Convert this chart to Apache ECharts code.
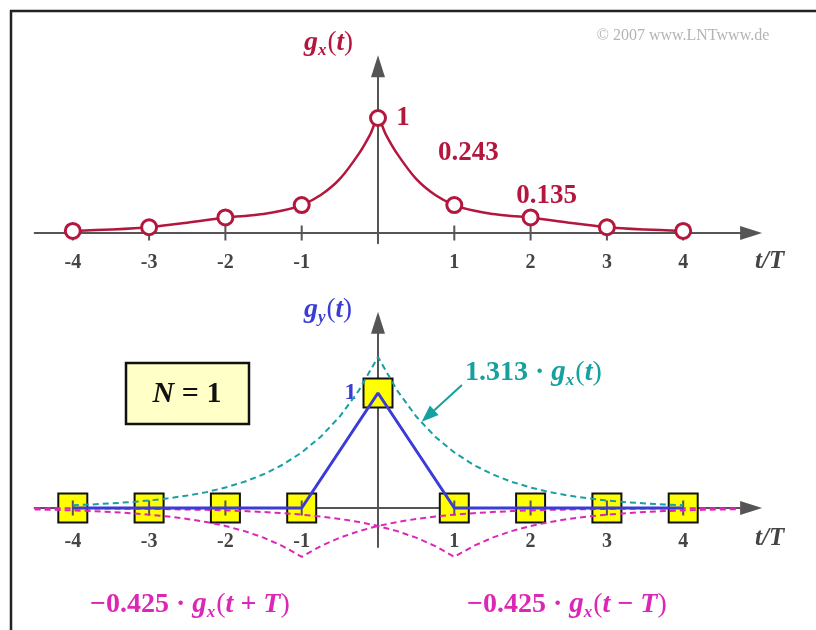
<!DOCTYPE html>
<html>
<head>
<meta charset="utf-8">
<script src="https://cdn.jsdelivr.net/npm/echarts@6/dist/echarts.min.js"></script>
<style>
  html, body { margin: 0; padding: 0; background: #fff; }
  #chart { width: 816px; height: 630px; }
</style>
</head>
<body>
<div id="chart"></div>
<script>
// ---- data -------------------------------------------------------------
// sampling instants t/T of the pulse values
const tInt = [-4, -3, -2, -1, 0, 1, 2, 3, 4];
const tickLabels = [-4, -3, -2, -1, 1, 2, 3, 4];

// input pulse g_x at the sampling instants
const gxMarks = [0.018, 0.05, 0.135, 0.243, 1, 0.243, 0.135, 0.05, 0.018];
// output pulse g_y (N = 1 transversal filter)
const gyMarks = [0, 0, 0, 0, 1, 0, 0, 0, 0];

// continuous input pulse g_x(t)
const gxCurveT = [-4, -3.5, -3, -2.5, -2, -1.75, -1.5, -1.25, -1, -0.75, -0.5, -0.25, -0.1, 0,
                  0.1, 0.25, 0.5, 0.75, 1, 1.25, 1.5, 1.75, 2, 2.5, 3, 3.5, 4];
const gxCurveV = [0.018, 0.03, 0.05, 0.09, 0.135, 0.148, 0.165, 0.195, 0.243, 0.33, 0.47, 0.69, 0.86, 1,
                  0.86, 0.69, 0.47, 0.33, 0.243, 0.195, 0.165, 0.148, 0.135, 0.09, 0.05, 0.03, 0.018];

// fine time grid for the filter branch signals
const tFine = [-4.5, -4.25, -4, -3.75, -3.5, -3.25, -3, -2.75, -2.5, -2.25, -2, -1.75, -1.5, -1.25,
               -1, -0.75, -0.5, -0.25, 0, 0.25, 0.5, 0.75, 1, 1.25, 1.5, 1.75, 2, 2.25, 2.5, 2.75,
               3, 3.25, 3.5, 3.75, 4, 4.25, 4.5, 4.75];
// 1.313 · g_x(t)
const mainTap = [null, null, 0.024, 0.031, 0.040, 0.051, 0.065, 0.084, 0.108, 0.138, 0.178, 0.228,
                 0.293, 0.376, 0.483, 0.620, 0.796, 1.023, 1.313, 1.023, 0.796, 0.620, 0.483, 0.376,
                 0.293, 0.228, 0.178, 0.138, 0.108, 0.084, 0.065, 0.051, 0.040, 0.031, 0.024,
                 null, null, null];
// −0.425 · g_x(t+T)
const leadTap = [-0.013, -0.016, -0.021, -0.027, -0.035, -0.045, -0.058, -0.074, -0.095, -0.122,
                 -0.156, -0.201, -0.258, -0.331, -0.425, -0.331, -0.258, -0.201, -0.156, -0.122,
                 -0.095, -0.074, -0.058, -0.045, -0.035, -0.027, -0.021, -0.016, -0.013, -0.010,
                 -0.008, -0.006, -0.005, -0.004, -0.003, -0.002, -0.002, -0.001];
// −0.425 · g_x(t−T)
const lagTap = [-0.002, -0.002, -0.003, -0.004, -0.005, -0.006, -0.008, -0.010, -0.013, -0.016,
                -0.021, -0.027, -0.035, -0.045, -0.058, -0.074, -0.095, -0.122, -0.156, -0.201,
                -0.258, -0.331, -0.425, -0.331, -0.258, -0.201, -0.156, -0.122, -0.095, -0.074,
                -0.058, -0.045, -0.035, -0.027, -0.021, -0.016, -0.013, -0.010];

// ---- styling ----------------------------------------------------------
const RED = '#b3173d';
const BLUE = '#3b3bd6';
const TEAL = '#17a0a0';
const MAG = '#dc27b6';
const AXIS = '#555555';
const SERIF = '"Liberation Serif", "DejaVu Serif", serif';

const zip = (xs, ys) => xs.map((x, i) => [x, ys[i]]);

// pixel scale shared by both panels
const PX_T = 76.3, PX_V = 115, X0 = 378;
const T_MIN = -4.5, T_MAX = 4.89;
const gridLeft = X0 + T_MIN * PX_T;
const gridWidth = (T_MAX - T_MIN) * PX_T;
const TOP = { axisY: 233, vMin: -0.09, vMax: 1.45 };
const BOT = { axisY: 508, vMin: -0.34, vMax: 1.61 };

function grid(p) {
  return {
    left: gridLeft, width: gridWidth,
    top: p.axisY - p.vMax * PX_V, height: (p.vMax - p.vMin) * PX_V
  };
}

function xAxis(idx) {
  return {
    type: 'value', gridIndex: idx, min: T_MIN, max: T_MAX,
    splitLine: { show: false },
    axisTick: { show: false },
    axisLabel: { show: false },
    axisLine: { show: true, onZero: true, symbol: ['none', 'triangle'], symbolSize: [14, 22],
                lineStyle: { color: AXIS, width: 2 } }
  };
}

function yAxis(idx, p) {
  return {
    type: 'value', gridIndex: idx, min: p.vMin, max: p.vMax,
    splitLine: { show: false }, axisTick: { show: false }, axisLabel: { show: false },
    axisLine: { show: true, onZero: true, symbol: ['none', 'triangle'], symbolSize: [14, 22],
                lineStyle: { color: AXIS, width: 2 } }
  };
}

// tick marks crossing the time axis, labelled with t/T
function tickMarks(idx, labelGap) {
  return {
    type: 'scatter', xAxisIndex: idx, yAxisIndex: idx, silent: true, z: 3,
    symbol: 'rect', symbolSize: [2, 15],
    itemStyle: { color: AXIS, opacity: 1 },
    label: { show: true, position: 'bottom', distance: labelGap, color: '#444',
             fontFamily: SERIF, fontWeight: 'bold', fontSize: 20,
             formatter: p => String(p.value[0]) },
    data: tickLabels.map(t => [t, 0])
  };
}

function arrowLine(color, from, to) {
  return {
    silent: true, animation: false,
    symbol: ['none', 'triangle'], symbolSize: [13, 17],
    lineStyle: { color: color, width: 2, type: 'solid' },
    label: { show: false },
    data: [[{ coord: from }, { coord: to }]]
  };
}

// labels placed next to the marked samples (value shown = plotted value)
const gxLabelOffsets = { 0: [25, 0], 1: [14, -52], 2: [16, -21] };

const gxMarkData = tInt.map((t, i) => {
  const item = { value: [t, gxMarks[i]] };
  if (gxLabelOffsets[t]) {
    item.label = { show: true, position: 'inside', offset: gxLabelOffsets[t],
                   formatter: p => String(p.value[1]) };
  }
  return item;
});

const gyMarkData = tInt.map((t, i) => {
  const item = { value: [t, gyMarks[i]] };
  if (t === 0) {
    item.label = { show: true, position: 'left', distance: 6, color: BLUE,
                   fontFamily: SERIF, fontWeight: 'bold', fontSize: 24,
                   formatter: p => String(p.value[1]) };
  }
  return item;
});

// rich text helper for the pulse symbols  g_x(t) etc.
function pulseRich(color, size) {
  return {
    n: { font: 'bold ' + size + 'px ' + SERIF, fill: color },
    d: { font: 'bold ' + size + 'px ' + SERIF, fill: color },
    g: { font: 'italic bold ' + (size + 1) + 'px ' + SERIF, fill: color },
    s: { font: 'italic bold ' + Math.round(size * 0.62) + 'px ' + SERIF, fill: color, padding: [Math.round(size * 0.55), 1, 0, 0] },
    p: { font: size + 'px ' + SERIF, fill: color },
    i: { font: 'italic bold ' + size + 'px ' + SERIF, fill: color }
  };
}

function richText(x, y, text, color, size) {
  return {
    type: 'text', x: x, y: y, z: 100,
    style: { text: text, rich: pulseRich(color, size), textVerticalAlign: 'middle', textAlign: 'left' }
  };
}

const chart = echarts.init(document.getElementById('chart'), null, { renderer: 'canvas' });

chart.setOption({
  animation: false,
  backgroundColor: '#ffffff',
  grid: [grid(TOP), grid(BOT)],
  xAxis: [xAxis(0), xAxis(1)],
  yAxis: [yAxis(0, TOP), yAxis(1, BOT)],
  series: [
    // upper panel: input pulse
    {
      type: 'line', xAxisIndex: 0, yAxisIndex: 0, z: 4,
      data: zip(gxCurveT, gxCurveV), smooth: 0.3, symbol: 'none',
      lineStyle: { color: RED, width: 2.5 }
    },
    tickMarks(0, 12),
    {
      type: 'scatter', xAxisIndex: 0, yAxisIndex: 0, z: 6,
      symbol: 'circle', symbolSize: 15,
      itemStyle: { color: '#ffffff', borderColor: RED, borderWidth: 3, opacity: 1 },
      label: { color: RED, fontFamily: SERIF, fontWeight: 'bold', fontSize: 27 },
      data: gxMarkData
    },
    // lower panel: equalized pulse
    {
      type: 'scatter', xAxisIndex: 1, yAxisIndex: 1, z: 2,
      symbol: 'rect', symbolSize: 29,
      itemStyle: { color: '#ffff00', borderColor: '#111111', borderWidth: 2, opacity: 1 },
      data: gyMarkData
    },
    tickMarks(1, 16),
    {
      type: 'line', xAxisIndex: 1, yAxisIndex: 1, z: 4, clip: false,
      data: zip(tFine, mainTap), symbol: 'none', connectNulls: false,
      lineStyle: { color: TEAL, width: 2, type: [6, 4] },
      markLine: arrowLine(TEAL, [1.10, 1.07], [0.655, 0.80])
    },
    {
      type: 'line', xAxisIndex: 1, yAxisIndex: 1, z: 4, clip: false,
      data: zip(tFine, leadTap), symbol: 'none',
      lineStyle: { color: MAG, width: 2, type: [6, 4] },
      markLine: arrowLine(MAG, [-1.81, -0.69], [-1.31, -0.35])
    },
    {
      type: 'line', xAxisIndex: 1, yAxisIndex: 1, z: 4, clip: false,
      data: zip(tFine, lagTap), symbol: 'none',
      lineStyle: { color: MAG, width: 2, type: [6, 4] },
      markLine: arrowLine(MAG, [1.82, -0.63], [1.31, -0.31])
    },
    {
      type: 'line', xAxisIndex: 1, yAxisIndex: 1, z: 5,
      data: zip(tInt, gyMarks), symbol: 'none',
      lineStyle: { color: BLUE, width: 3 }
    }
  ],
  graphic: [
    // frame
    { type: 'line', z: 50, shape: { x1: 10, y1: 11, x2: 816, y2: 11 }, style: { stroke: '#222', lineWidth: 2.5 } },
    { type: 'line', z: 50, shape: { x1: 11, y1: 10, x2: 11, y2: 630 }, style: { stroke: '#222', lineWidth: 2.5 } },
    // copyright
    { type: 'text', x: 683, y: 36, z: 50,
      style: { text: '© 2007 www.LNTwww.de', fill: '#b4b4b4', font: '16px ' + SERIF,
               textAlign: 'center', textVerticalAlign: 'middle' } },
    // axis titles
    richText(304, 43, '{g|g}{s|x}{p|(}{i|t}{p|)}', RED, 27),
    richText(304, 310, '{g|g}{s|y}{p|(}{i|t}{p|)}', BLUE, 27),
    { type: 'text', x: 755, y: 262, z: 50,
      style: { text: 't/T', fill: '#444', font: 'italic bold 25px ' + SERIF, textVerticalAlign: 'middle' } },
    { type: 'text', x: 755, y: 539, z: 50,
      style: { text: 't/T', fill: '#444', font: 'italic bold 25px ' + SERIF, textVerticalAlign: 'middle' } },
    // filter order box
    { type: 'rect', z: 50, shape: { x: 126, y: 363, width: 123, height: 61 },
      style: { fill: '#ffffc8', stroke: '#111', lineWidth: 2.5 } },
    { type: 'text', x: 187, y: 394, z: 51,
      style: { text: '{n|N}{e| = 1}', textAlign: 'center', textVerticalAlign: 'middle',
               rich: { n: { font: 'italic bold 30px ' + SERIF, fill: '#111' },
                       e: { font: 'bold 30px ' + SERIF, fill: '#111' } } } },
    // branch annotations
    richText(465, 373, '{n|1.313}{d| · }{g|g}{s|x}{p|(}{i|t}{p|)}', TEAL, 28),
    richText(90, 605, '{n|−0.425}{d| · }{g|g}{s|x}{p|(}{i|t}{n| + }{i|T}{p|)}', MAG, 28),
    richText(467, 605, '{n|−0.425}{d| · }{g|g}{s|x}{p|(}{i|t}{n| − }{i|T}{p|)}', MAG, 28)
  ]
});
</script>
</body>
</html>
